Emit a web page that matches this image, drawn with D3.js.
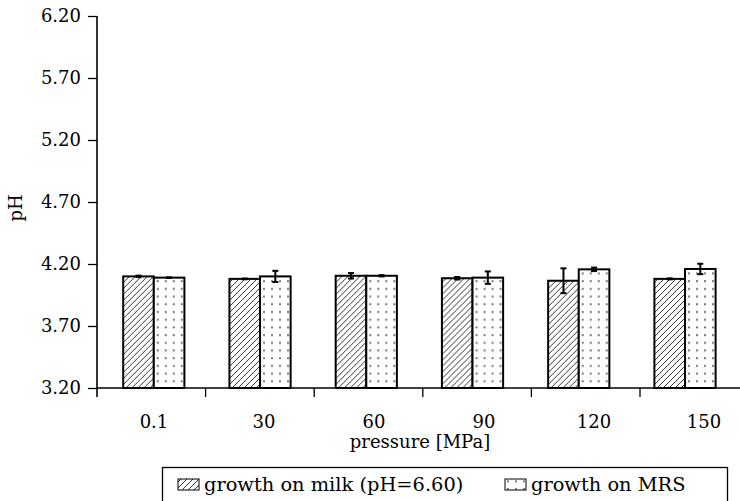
<!DOCTYPE html>
<html>
<head>
<meta charset="utf-8">
<script src="https://cdn.jsdelivr.net/npm/d3@7"></script>
<style>
  body { margin: 0; background: #fff; }
  svg text { font-family: "DejaVu Serif", serif; fill: #000; }
</style>
</head>
<body>
<div id="chart"></div>
<script>
var pressures = ['0.1', '30', '60', '90', '120', '150'];
var seriesNames = ['growth on milk (pH=6.60)', 'growth on MRS'];
var milkValues = [4.10, 4.08, 4.105, 4.085, 4.065, 4.08];
var milkErrors = [0.006, 0.003, 0.022, 0.01, 0.10, 0.004];
var mrsValues = [4.09, 4.10, 4.105, 4.09, 4.157, 4.16];
var mrsErrors = [0.002, 0.045, 0.005, 0.05, 0.014, 0.042];
var yTicks = [3.20, 3.70, 4.20, 4.70, 5.20, 5.70, 6.20];

function drawChart() {
    const width = 740;
    const height = 501;
    const left = 97, right = 748.6, top = 16, bottom = 388;
    const barW = 30.6;

    const svg = d3.select('#chart').append('svg')
        .attr('width', width)
        .attr('height', height);

    const defs = svg.append('defs');

    // diagonal hatch for milk
    const hatch = defs.append('pattern')
        .attr('id', 'hatch')
        .attr('patternUnits', 'userSpaceOnUse')
        .attr('width', 6).attr('height', 6);
    hatch.append('rect').attr('width', 6).attr('height', 6).attr('fill', 'white');
    hatch.append('path')
        .attr('d', 'M-1,1 l2,-2 M0,6 l6,-6 M5,7 l2,-2')
        .attr('stroke', 'black').attr('stroke-width', 0.8);

    // grey dots for MRS
    const dots = defs.append('pattern')
        .attr('id', 'dots')
        .attr('patternUnits', 'userSpaceOnUse')
        .attr('width', 8).attr('height', 7.7);
    dots.append('rect').attr('width', 8).attr('height', 7.7).attr('fill', 'white');
    dots.append('rect').attr('x', 3).attr('y', 3).attr('width', 2).attr('height', 2).attr('fill', '#7a7a7a');

    // category boundaries (axis ticks)
    const xCat = d3.scaleBand()
        .domain(pressures)
        .range([left, right]);

    // bar group centres and label centres sit slightly off the category centres
    const xBars = d3.scalePoint()
        .domain(pressures)
        .range([153.8, 685]);
    const xLabels = d3.scalePoint()
        .domain(pressures)
        .range([154, 704]);

    const y = d3.scaleLinear()
        .domain([3.2, 6.2])
        .range([bottom, top]);

    const fills = ['url(#hatch)', 'url(#dots)'];
    const rows = pressures.map((p, i) => ({
        p: p,
        vals: [
            { s: 0, v: milkValues[i], e: milkErrors[i] },
            { s: 1, v: mrsValues[i], e: mrsErrors[i] }
        ]
    }));

    const groups = svg.selectAll('g.grp')
        .data(rows)
        .enter().append('g')
        .attr('class', 'grp')
        .attr('transform', d => `translate(${xBars(d.p)},0)`);

    const bx = d => (d.s - 1) * barW;

    groups.selectAll('rect')
        .data(d => d.vals)
        .enter().append('rect')
        .attr('x', bx)
        .attr('y', d => y(d.v))
        .attr('width', barW)
        .attr('height', d => y(3.2) - y(d.v))
        .attr('fill', d => fills[d.s])
        .attr('stroke', 'black')
        .attr('stroke-width', 2);

    // error bars
    const err = groups.selectAll('g.err')
        .data(d => d.vals)
        .enter().append('g')
        .attr('class', 'err')
        .attr('stroke', 'black')
        .attr('stroke-width', 2);
    const cx = d => bx(d) + barW / 2;
    err.append('line')
        .attr('x1', cx).attr('x2', cx)
        .attr('y1', d => y(d.v + d.e)).attr('y2', d => y(d.v - d.e));
    err.append('line')
        .attr('x1', d => cx(d) - 3).attr('x2', d => cx(d) + 3)
        .attr('y1', d => y(d.v + d.e)).attr('y2', d => y(d.v + d.e));
    err.append('line')
        .attr('x1', d => cx(d) - 3).attr('x2', d => cx(d) + 3)
        .attr('y1', d => y(d.v - d.e)).attr('y2', d => y(d.v - d.e));

    // y axis
    const yAxis = svg.append('g')
        .attr('transform', `translate(${left},0)`)
        .call(d3.axisLeft(y).tickValues(yTicks).tickFormat(d3.format('.2f')).tickSize(9).tickPadding(7));
    yAxis.select('.domain').attr('d', `M0,${top}V${bottom + 9}`).attr('stroke-width', 1.6);
    yAxis.selectAll('.tick line').attr('stroke-width', 1.3);
    yAxis.selectAll('.tick text').attr('font-size', 18).attr('font-family', '"DejaVu Serif", serif');

    // x axis: boundary ticks between categories
    const xAxis = svg.append('g');
    xAxis.append('line')
        .attr('x1', left).attr('x2', width)
        .attr('y1', bottom).attr('y2', bottom)
        .attr('stroke', 'black').attr('stroke-width', 1.6);
    xAxis.selectAll('line.tk')
        .data(pressures.slice(1))
        .enter().append('line')
        .attr('class', 'tk')
        .attr('x1', d => xCat(d))
        .attr('x2', d => xCat(d))
        .attr('y1', bottom).attr('y2', bottom + 9)
        .attr('stroke', 'black').attr('stroke-width', 1.3);
    xAxis.selectAll('text')
        .data(pressures)
        .enter().append('text')
        .attr('x', d => xLabels(d))
        .attr('y', 428)
        .attr('text-anchor', 'middle')
        .attr('font-size', 18)
        .text(d => d);

    svg.append('text')
        .attr('x', 420).attr('y', 448)
        .attr('text-anchor', 'middle')
        .attr('font-size', 18)
        .text('pressure [MPa]');

    svg.append('text')
        .attr('transform', 'translate(22,208) rotate(-90)')
        .attr('text-anchor', 'middle')
        .attr('font-size', 18)
        .text('pH');

    // legend
    const legend = svg.append('g');
    legend.append('rect')
        .attr('x', 162.5).attr('y', 467.5)
        .attr('width', 565).attr('height', 40)
        .attr('fill', 'none').attr('stroke', 'black').attr('stroke-width', 1.3);
    const legendX = [178, 505];
    seriesNames.forEach((name, i) => {
        legend.append('rect')
            .attr('x', legendX[i]).attr('y', 479)
            .attr('width', 21).attr('height', 11)
            .attr('fill', fills[i]).attr('stroke', 'black').attr('stroke-width', 1);
        legend.append('text')
            .attr('x', legendX[i] + 26).attr('y', 491)
            .attr('font-size', 19.4)
            .text(name);
    });
}

drawChart();
</script>
</body>
</html>
